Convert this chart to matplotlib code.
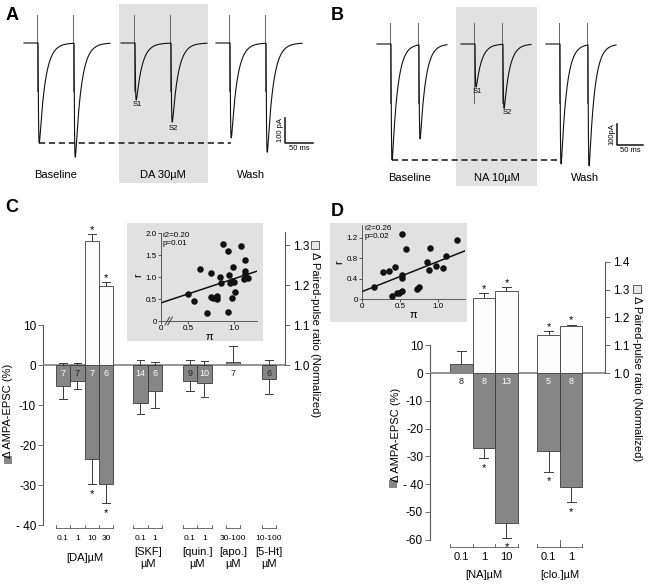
import numpy as np
import matplotlib
matplotlib.use("Agg")
import matplotlib.pyplot as plt
from matplotlib.patches import Rectangle

plt.rcParams['font.family'] = ['Liberation Sans', 'DejaVu Sans']

# ------------------------------------------------------------------ data
# Panel A: EPSC amplitudes (pA) of the paired pulses S1, S2
a_conditions = ["Baseline", "DA 30µM", "Wash"]
a_s1_amp = [400, 228, 380]
a_s2_amp = [456, 316, 436]
# Panel B
b_conditions = ["Baseline", "NA 10µM", "Wash"]
b_s1_amp = [552, 205, 571]
b_s2_amp = [448, 305, 576]

# Panel C bars
c_group_labels = ["[DA]µM", "[SKF]\nµM", "[quin.]\nµM", "[apo.]\nµM", "[5-Ht]\nµM"]
c_group_sizes = [4, 2, 2, 1, 1]
c_conc = ["0.1", "1", "10", "30", "0.1", "1", "0.1", "1", "30-100", "10-100"]
c_ampa = [-5.3, -4.0, -23.6, -29.7, -9.4, -6.4, -3.9, -4.6, 0.8, -3.6]
c_ampa_err_dn = [3.3, 2.1, 6.2, 4.9, 2.9, 4.3, 2.5, 3.5, 0.0, 3.7]
c_ampa_err_up = [0, 0, 0, 0, 0, 0, 0, 0, 4.0, 0]
c_ppr = [1.0, 1.0, 1.311, 1.197, 1.0, 1.0, 1.0, 1.0, np.nan, 1.0]
c_ppr_err = [0.004, 0.004, 0.017, 0.010, 0.012, 0.007, 0.012, 0.009, np.nan, 0.012]
c_n = ["7", "7", "7", "6", "14", "6", "9", "10", "7", "6"]
c_sig_ampa = [0, 0, 1, 1, 0, 0, 0, 0, 0, 0]
c_sig_ppr = [0, 0, 1, 1, 0, 0, 0, 0, 0, 0]

# Inset C scatter
c_pi = [0.50, 0.565, 0.63, 0.707, 0.75, 0.746, 0.772, 0.82, 0.82, 0.85, 0.86, 0.877,
        0.94, 0.935, 0.946, 0.956, 0.975, 0.978, 0.99, 1.0, 1.01, 1.08, 1.12, 1.12,
        1.12, 1.105, 1.15]
c_r = [0.61, 0.45, 1.19, 0.19, 1.09, 0.55, 0.53, 0.57, 0.49, 0.99, 0.86, 1.76,
       1.60, 0.21, 1.04, 0.86, 0.91, 0.53, 1.22, 0.89, 0.66, 1.71, 1.39, 1.14,
       1.07, 0.96, 0.98]
c_fit = (0.69, 0.27)   # slope, intercept
c_stats = "r2=0.20\np=0.01"

# Panel D bars
d_group_labels = ["[NA]µM", "[clo.]µM"]
d_group_sizes = [3, 2]
d_conc = ["0.1", "1", "10", "0.1", "1"]
d_ampa = [3.2, -27.1, -53.8, -28.1, -41.1]
d_ampa_err_dn = [2.4, 3.6, 5.4, 7.4, 5.3]
d_ampa_err_up = [4.8, 0, 0, 0, 0]
d_ppr = [np.nan, 1.269, 1.296, 1.138, 1.168]
d_ppr_err = [np.nan, 0.018, 0.014, 0.012, 0.006]
d_n = ["8", "8", "13", "5", "8"]
d_sig_ampa = [0, 1, 1, 1, 1]
d_sig_ppr = [0, 1, 1, 1, 1]

# Inset D scatter
d_pi = [0.154, 0.272, 0.355, 0.44, 0.395, 0.456, 0.49, 0.526, 0.52, 0.58, 0.52,
        0.52, 0.72, 0.745, 0.85, 0.88, 0.90, 0.97, 1.06, 1.10, 1.25]
d_r = [0.235, 0.52, 0.54, 0.63, 0.06, 0.12, 0.12, 0.15, 1.27, 0.99, 0.41,
       0.48, 0.20, 0.23, 0.73, 0.57, 1.00, 0.65, 0.60, 0.85, 1.15]
d_fit = (0.59, 0.145)
d_stats = "r2=0.26\np=0.02"

# ------------------------------------------------------------------ layout helpers
W, H = 648, 585
fig = plt.figure(figsize=(W / 100, H / 100), dpi=100)


def fx(px):
    return px / W


def fy(py):
    return 1 - py / H


def add_ax(x0, y0, x1, y1):
    a = fig.add_axes([fx(x0), fy(y1), (x1 - x0) / W, (y1 - y0) / H])
    a.set_facecolor('none')
    return a


def bg_rect(x0, y0, x1, y1, color='#e1e1e1'):
    fig.add_artist(Rectangle((fx(x0), fy(y1)), (x1 - x0) / W, (y1 - y0) / H,
                             transform=fig.transFigure, facecolor=color,
                             edgecolor='none', zorder=-5))


def ftext(px, py, s, **kw):
    fig.text(fx(px), fy(py), s, **kw)


def epsc(t, amp, tr=0.7, td=10.5, delay=2.0):
    tt = np.clip(t - delay, 0, None)
    tpk = np.log(td / tr) * td * tr / (td - tr)
    norm = np.exp(-tpk / td) - np.exp(-tpk / tr)
    return -amp * (np.exp(-tt / td) - np.exp(-tt / tr)) / norm


def draw_traces(ax, offsets, stim, isi, dur, s1, s2, art_up, art_dn):
    peaks = []
    for i, t0 in enumerate(offsets):
        t = np.linspace(0, dur, 4000)
        cur = epsc(t - stim, s1[i]) + epsc(t - stim - isi, s2[i])
        ax.plot(t0 + t, cur, color='#111111', lw=0.8, zorder=3)
        for ts in (stim, stim + isi):
            ax.plot([t0 + ts, t0 + ts], [art_dn, art_up], color='#666666', lw=0.7, zorder=2)
        tpk = t[np.argmin(epsc(t - stim, s1[i]))]
        tpk2 = t[np.argmin(epsc(t - stim - isi, s2[i]))]
        peaks.append((t0 + tpk, t0 + tpk2))
    return peaks


# ------------------------------------------------------------------ Panel A
bg_rect(119, 4, 208, 183)
axA = add_ax(20, 5, 320, 190)
msA, pAA = 50 / 28, 100 / 25
axA.set_xlim(0, 300 * msA)
axA.set_ylim(-(190 - 43) * pAA, (43 - 5) * pAA)
axA.axis('off')
offA = [4 * msA, 101 * msA, 196 * msA]
stimA, isiA, durA = 13 * msA, 36 * msA, 86 * msA
pk = draw_traces(axA, offA, stimA, isiA, durA, a_s1_amp, a_s2_amp, 112, -190)
axA.plot([pk[0][0], pk[2][0]], [-a_s1_amp[0]] * 2, ls=(0, (4, 2.5)), color='#111', lw=1.1)
axA.annotate("S1", (pk[1][0], -a_s1_amp[1]), xytext=(1, -1), textcoords='offset points',
             ha='center', va='top', fontsize=5.5)
axA.annotate("S2", (pk[1][1], -a_s2_amp[1]), xytext=(1, -2), textcoords='offset points',
             ha='center', va='top', fontsize=5.5)
sbx, sby = (285 - 20) * msA, -400
axA.plot([sbx, sbx, sbx + 50], [sby + 100, sby, sby], color='#111', lw=1.1)
axA.text(sbx - 2, sby + 50, "100 pA", rotation=90, ha='right', va='center', fontsize=5.5)
axA.text(sbx + 25, sby - 22, "50 ms", ha='center', va='center', fontsize=5.5)
for lab, px in zip(a_conditions, [56, 163, 251]):
    ftext(px, 175, lab, ha='center', va='center', fontsize=8)

# ------------------------------------------------------------------ Panel B
bg_rect(456, 7, 537, 186)
axB = add_ax(370, 5, 648, 190)
msB, pAB = 50 / 26, 100 / 21
axB.set_xlim(0, 278 * msB)
axB.set_ylim(-(190 - 44) * pAB, (44 - 5) * pAB)
axB.axis('off')
offB = [7 * msB, 91 * msB, 176 * msB]
stimB, isiB, durB = 13 * msB, 28 * msB, 70 * msB
pkB = draw_traces(axB, offB, stimB, isiB, durB, b_s1_amp, b_s2_amp, 100, -280)
axB.plot([pkB[0][0], pkB[2][0]], [-b_s1_amp[0]] * 2, ls=(0, (4, 2.5)), color='#111', lw=1.1)
axB.annotate("S1", (pkB[1][0], -b_s1_amp[1]), xytext=(1, -1), textcoords='offset points',
             ha='center', va='top', fontsize=5.5)
axB.annotate("S2", (pkB[1][1], -b_s2_amp[1]), xytext=(2, -1), textcoords='offset points',
             ha='center', va='top', fontsize=5.5)
sbx, sby = (617 - 370) * msB, -(145 - 44) * pAB
axB.plot([sbx, sbx, sbx + 50], [sby + 100, sby, sby], color='#111', lw=1.1)
axB.text(sbx - 2, sby + 50, "100pA", rotation=90, ha='right', va='center', fontsize=5.5)
axB.text(sbx + 25, sby - 24, "50 ms", ha='center', va='center', fontsize=5.5)
for lab, px in zip(b_conditions, [410, 497, 585]):
    ftext(px, 178, lab, ha='center', va='center', fontsize=8)

# panel letters
for lab, px, py in [("A", 12, 15), ("B", 337, 15), ("C", 12, 207), ("D", 337, 211)]:
    ftext(px, py, lab, ha='center', va='center', fontsize=13, fontweight='bold')

GRAY = '#868686'
WHITE = '#fcfcfc'
EDGE = '#3a3a3a'
SPINE = '#555555'


def bar_panel(ax, ax2, xs, ampa, dn, up, ppr, pprerr, nlab, sig_a, sig_p, capw, n_y,
              star_off, fs_n):
    ax.bar(xs, ampa, width=1.0, color=GRAY, edgecolor=EDGE, lw=0.6, zorder=3)
    for x, v, d, u in zip(xs, ampa, dn, up):
        for e, sgn in ((d, -1), (u, 1)):
            if e > 0:
                ax.plot([x, x], [v, v + sgn * e], color=EDGE, lw=0.7, zorder=2)
                ax.plot([x - capw, x + capw], [v + sgn * e] * 2, color=EDGE, lw=0.7, zorder=2)
    pv = np.array(ppr, dtype=float)
    ok = ~np.isnan(pv)
    ax2.bar(np.array(xs)[ok], pv[ok] - 1.0, bottom=1.0, width=1.0, color=WHITE,
            edgecolor=EDGE, lw=0.6, zorder=3)
    for x, v, e in zip(xs, ppr, pprerr):
        if not np.isnan(v):
            ax2.plot([x, x], [v, v + e], color=EDGE, lw=0.7, zorder=2)
            ax2.plot([x - capw, x + capw], [v + e] * 2, color=EDGE, lw=0.7, zorder=2)
    for x, v, d, u, n, sa in zip(xs, ampa, dn, up, nlab, sig_a):
        col = 'white' if v < -4 else '#222'
        ax.text(x, n_y, n, ha='center', va='center', color=col, fontsize=fs_n, zorder=5)
        if sa:
            ax.annotate('*', (x, v - d), xytext=(0, -star_off), textcoords='offset points',
                        ha='center', va='center', fontsize=8)
    for x, v, e, sp in zip(xs, ppr, pprerr, sig_p):
        if sp:
            ax2.annotate('*', (x, v + e), xytext=(0, 3), textcoords='offset points',
                         ha='center', va='center', fontsize=8)


def style_axes(ax, ax2, lbounds, rbounds, lticks, llabels, rticks, fs):
    for s in ('top', 'bottom', 'right'):
        ax.spines[s].set_visible(False)
    for s in ('top', 'bottom', 'left'):
        ax2.spines[s].set_visible(False)
    ax.spines['left'].set_bounds(*lbounds)
    ax.spines['left'].set_color(SPINE)
    ax2.spines['right'].set_bounds(*rbounds)
    ax2.spines['right'].set_color(SPINE)
    ax.set_xticks([])
    ax.set_yticks(lticks)
    ax.set_yticklabels(llabels, fontsize=fs)
    ax2.set_yticks(rticks)
    ax2.set_yticklabels([f"{t:.1f}" for t in rticks], fontsize=fs)
    ax.tick_params(axis='y', length=3.5, width=0.6, color=SPINE, pad=1.5)
    ax2.tick_params(axis='y', length=3.5, width=0.6, color=SPINE, pad=2)


def groups(ax, xs, sizes, conc, glabels, y_line, y_tick, y_conc, y_group, fs_c, fs_g):
    i = 0
    for g, n in enumerate(sizes):
        gx = xs[i:i + n]
        left, right = gx[0] - 0.5, gx[-1] + 0.5
        ax.plot([left, right], [y_line, y_line], color=SPINE, lw=0.6, clip_on=False)
        edges = [left] + [x + 0.5 for x in gx]
        for e in edges:
            ax.plot([e, e], [y_line, y_tick], color=SPINE, lw=0.6, clip_on=False)
        for x, c in zip(gx, conc[i:i + n]):
            ax.text(x, y_conc, c, ha='center', va='center', fontsize=fs_c, clip_on=False)
        ax.text((left + right) / 2, y_group, glabels[g], ha='center', va='center',
                fontsize=fs_g, linespacing=1.25, clip_on=False)
        i += n


# ------------------------------------------------------------------ Panel C
bg_rect(127, 223, 263, 341)
c_x = [0, 1, 2, 3, 5.38, 6.38, 8.82, 9.82, 11.8, 14.3]
axC = add_ax(43, 228, 285, 545)
axC.set_xlim((43 - 63) / 14.4, (285 - 63) / 14.4)
yC = ((365 - 545) / 4, (365 - 228) / 4)
axC.set_ylim(*yC)
axC2 = axC.twinx()
axC2.set_ylim(1 + yC[0] / 100, 1 + yC[1] / 100)
axC.axhline(0, color='#8a8a8a', lw=1.3, zorder=4)
bar_panel(axC, axC2, c_x, c_ampa, c_ampa_err_dn, c_ampa_err_up, c_ppr, c_ppr_err, c_n,
          c_sig_ampa, c_sig_ppr, 0.27, -2.0, 7, 6.5)
style_axes(axC, axC2, (-40, 10), (1.0, 1.333), [10, 0, -10, -20, -30, -40],
           ["10", "0", "-10", "-20", "-30", "- 40"], [1.0, 1.1, 1.2, 1.3], 8.5)
groups(axC, c_x, c_group_sizes, c_conc, c_group_labels, (365 - 528) / 4, (365 - 525) / 4,
       (365 - 538) / 4, (365 - 558) / 4, 6, 8)

ftext(8, 411, "Δ AMPA-EPSC (%)", rotation=90, ha='center', va='center', fontsize=8)
fig.add_artist(Rectangle((fx(4), fy(464)), 8 / W, 8 / H, transform=fig.transFigure,
                         facecolor=GRAY, edgecolor='none'))
ftext(315, 335, "Δ Paired-pulse ratio (Normalized)", rotation=270, ha='center',
      va='center', fontsize=8)
fig.add_artist(Rectangle((fx(311), fy(249)), 8 / W, 8 / H, transform=fig.transFigure,
                         facecolor='#e8e8e8', edgecolor='#444', lw=0.6))

# inset C
axIC = add_ax(161, 229, 257, 321)
axIC.set_xlim(0.5 - 27 / 92, 1.0 + 23 / 92)
axIC.set_ylim(0, (321 - 229) / 44)
axIC.scatter(c_pi, c_r, s=22, color='#111', zorder=3, linewidths=0)
xl = np.array(axIC.get_xlim())
axIC.plot(xl, c_fit[0] * xl + c_fit[1], color='#111', lw=1.1)
for s in ('top', 'right'):
    axIC.spines[s].set_visible(False)
for s in ('left', 'bottom'):
    axIC.spines[s].set_color('#444')
    axIC.spines[s].set_linewidth(0.6)
axIC.spines['left'].set_bounds(0, 2.0)
axIC.set_yticks([0, 0.5, 1.0, 1.5, 2.0])
axIC.set_yticklabels(["0", "0.5", "1.0", "1.5", "2.0"])
axIC.set_xticks([xl[0], 0.5, 1.0])
axIC.set_xticklabels(["0", "0.5", "1.0"])
axIC.tick_params(length=2, width=0.6, labelsize=5.8, pad=1, color='#444')
for bx in (0.275, 0.305):
    axIC.plot([bx - 0.025, bx + 0.025], [-0.09, 0.09], color='#444', lw=0.7, clip_on=False)
axIC.text(0.02, 0.97, c_stats, transform=axIC.transAxes, ha='left', va='top', fontsize=5.8,
          linespacing=1.3)
axIC.set_ylabel("r", fontsize=8, labelpad=2)
axIC.set_xlabel("π", fontsize=8, labelpad=0)

# ------------------------------------------------------------------ Panel D
bg_rect(330, 223, 467, 322)
d_x = [0, 1, 2, 3.87, 4.87]
axD = add_ax(430, 255, 605, 548)
axD.set_xlim((430 - 461.5) / 22.5, (605 - 461.5) / 22.5)
yD = ((373 - 548) / 2.78, (373 - 255) / 2.78)
axD.set_ylim(*yD)
axD2 = axD.twinx()
axD2.set_ylim(1 + yD[0] / 100, 1 + yD[1] / 100)
axD.axhline(0, color='#8a8a8a', lw=1.3, zorder=4)
bar_panel(axD, axD2, d_x, d_ampa, d_ampa_err_dn, d_ampa_err_up, d_ppr, d_ppr_err, d_n,
          d_sig_ampa, d_sig_ppr, 0.2, (373 - 381) / 2.78, 7, 6.5)
style_axes(axD, axD2, (-60, 10), (1.0, 1.4), [10, 0, -10, -20, -30, -40, -50, -60],
           ["10", "0", "-10", "-20", "-30", "- 40", "-50", "-60"],
           [1.0, 1.1, 1.2, 1.3, 1.4], 8.5)
groups(axD, d_x, d_group_sizes, d_conc, d_group_labels, (373 - 547) / 2.78,
       (373 - 544) / 2.78, (373 - 557) / 2.78, (373 - 575) / 2.78, 8, 8)
axD.plot([d_x[3] + 0.5] * 2, [(373 - 547) / 2.78, (373 - 540) / 2.78], color=SPINE, lw=0.6,
         clip_on=False)

ftext(396, 435, "Δ AMPA-EPSC (%)", rotation=90, ha='center', va='center', fontsize=8)
fig.add_artist(Rectangle((fx(389), fy(488)), 8 / W, 8 / H, transform=fig.transFigure,
                         facecolor=GRAY, edgecolor='none'))
ftext(637, 379, "Δ Paired-pulse ratio (Normalized)", rotation=270, ha='center',
      va='center', fontsize=8)
fig.add_artist(Rectangle((fx(633), fy(293)), 8 / W, 8 / H, transform=fig.transFigure,
                         facecolor='#e8e8e8', edgecolor='#444', lw=0.6))

# inset D
axID = add_ax(362, 225, 465, 299)
axID.set_xlim(0, (465 - 362) / 76)
axID.set_ylim(0, (299 - 225) / 51)
axID.scatter(d_pi, d_r, s=22, color='#111', zorder=3, linewidths=0)
xl = np.array(axID.get_xlim())
axID.plot(xl, d_fit[0] * xl + d_fit[1], color='#111', lw=1.1)
for s in ('top', 'right'):
    axID.spines[s].set_visible(False)
for s in ('left', 'bottom'):
    axID.spines[s].set_color('#444')
    axID.spines[s].set_linewidth(0.6)
axID.set_yticks([0, 0.4, 0.8, 1.2])
axID.set_yticklabels(["0", "0.4", "0.8", "1.2"])
axID.set_xticks([0, 0.5, 1.0])
axID.set_xticklabels(["0", "0.5", "1.0"])
axID.tick_params(length=2, width=0.6, labelsize=5.8, pad=1, color='#444')
axID.text(0.02, 1.0, d_stats, transform=axID.transAxes, ha='left', va='top', fontsize=5.8,
          linespacing=1.3)
axID.set_ylabel("r", fontsize=8, labelpad=2)
axID.set_xlabel("π", fontsize=8, labelpad=0)

fig.savefig("out.png", dpi=100)
